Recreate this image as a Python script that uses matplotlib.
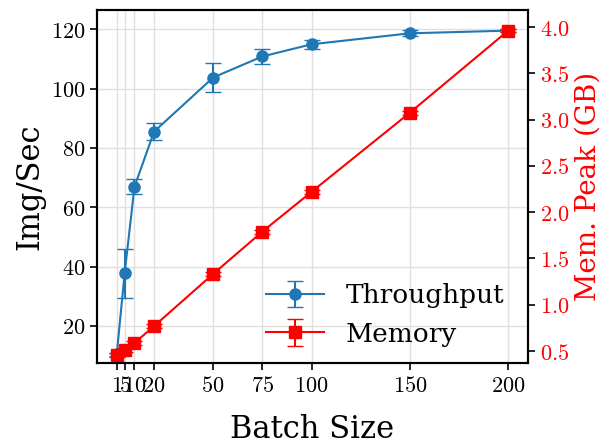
import matplotlib
matplotlib.use("Agg")
import matplotlib.pyplot as plt
from matplotlib.ticker import FuncFormatter, MultipleLocator

# batch size sweep: throughput (left axis) and peak memory (right axis)
batch_sizes = [1, 5, 10, 20, 50, 75, 100, 150, 200]
throughput = [10.5, 37.7, 66.9, 85.5, 103.7, 110.8, 114.9, 118.6, 119.5]
throughput_err = [0.5, 8.2, 2.5, 3.0, 5.0, 2.4, 1.6, 1.0, 0.5]
memory = [0.457, 0.51, 0.587, 0.77, 1.333, 1.79, 2.22, 3.076, 3.963]
memory_err = [0.02, 0.02, 0.02, 0.02, 0.02, 0.02, 0.02, 0.02, 0.02]

plt.rcParams['font.family'] = 'DejaVu Serif'
plt.rcParams['mathtext.fontset'] = 'cm'

fig, ax = plt.subplots(figsize=(6.08, 4.48), dpi=100)
fig.subplots_adjust(left=0.16, right=0.868, bottom=0.189, top=0.978)
ax2 = ax.twinx()

l1 = ax.errorbar(batch_sizes, throughput, yerr=throughput_err, color='tab:blue',
                 marker='o', markersize=8, capsize=6, lw=1.5, label='Throughput')
l2 = ax2.errorbar(batch_sizes, memory, yerr=memory_err, color='red',
                  marker='s', markersize=8, capsize=6, lw=1.5, label='Memory')

ax.set_xticks(batch_sizes)
ax.set_xlim(-8.9, 209.9)
ax.set_ylim(7.4, 126.5)
ax2.set_ylim(0.367, 4.187)
ax2.yaxis.set_major_locator(MultipleLocator(0.5))
ax.xaxis.set_major_formatter(FuncFormatter(lambda v, p: f'${v:g}$'))
ax.yaxis.set_major_formatter(FuncFormatter(lambda v, p: f'${v:g}$'))
ax2.yaxis.set_major_formatter(FuncFormatter(lambda v, p: f'${v:.1f}$'))
ax.grid(True, color='#e0e0e0', lw=1)
ax.set_axisbelow(True)

ax.set_xlabel('Batch Size', fontsize=22, labelpad=12)
ax.set_ylabel('Img/Sec', fontsize=22)
ax2.set_ylabel('Mem. Peak (GB)', fontsize=20, color='red')
ax.tick_params(labelsize=16, width=1.2, length=5)
ax2.tick_params(labelsize=16, width=1.2, length=5, labelcolor='red')
for a in (ax, ax2):
    for s in a.spines.values():
        s.set_linewidth(1.5)

ax.legend([l1, l2], ['Throughput', 'Memory'], loc='lower right', frameon=False,
          fontsize=19, handlelength=2.2, bbox_to_anchor=(1.0, -0.02))

fig.savefig('out.png')
